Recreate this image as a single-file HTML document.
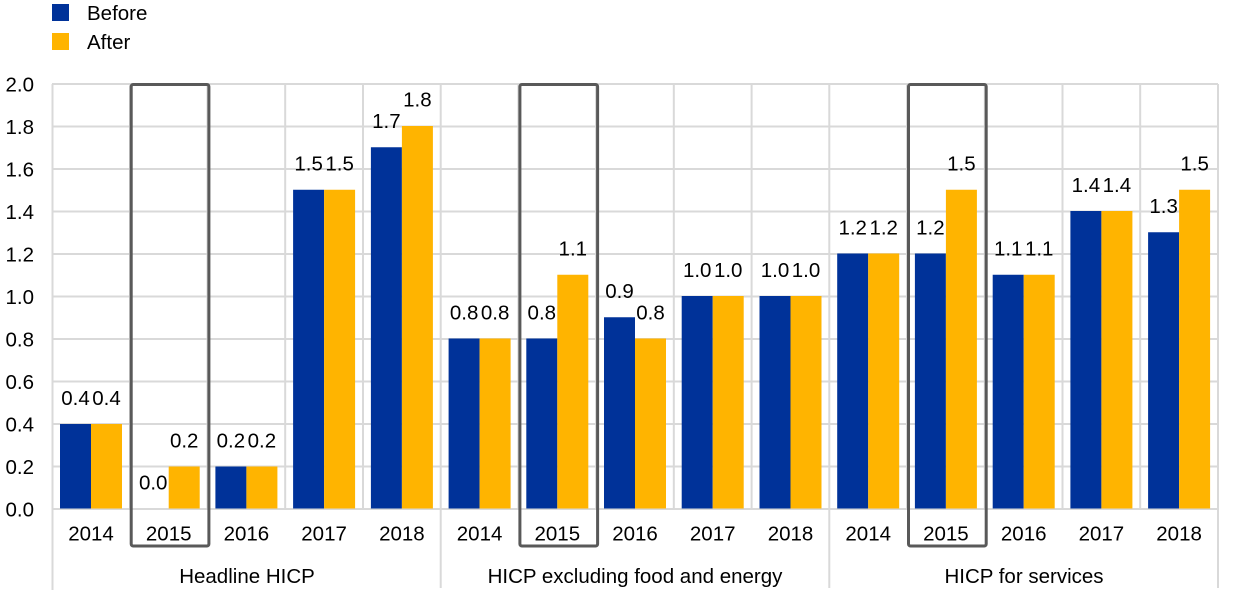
<!DOCTYPE html>
<html><head><meta charset="utf-8"><style>
html,body{margin:0;padding:0;background:#fff;}
svg{display:block;font-family:"Liberation Sans",Arial,sans-serif;}
</style></head><body>
<svg width="1240" height="590" viewBox="0 0 1240 590" xmlns="http://www.w3.org/2000/svg">
<rect width="1240" height="590" fill="#fff"/>
<!-- legend -->
<rect x="52" y="4" width="17" height="17" fill="#003299"/>
<text x="87" y="20" font-size="20.5" fill="#000">Before</text>
<rect x="52" y="33" width="17" height="17" fill="#FFB400"/>
<text x="87" y="49" font-size="20.5" fill="#000">After</text>
<!-- gridlines -->
<g stroke="#d9d9d9" stroke-width="2" fill="none">
<line x1="52" y1="84" x2="1218" y2="84"/>
<line x1="52" y1="126.5" x2="1218" y2="126.5"/>
<line x1="52" y1="169" x2="1218" y2="169"/>
<line x1="52" y1="211.5" x2="1218" y2="211.5"/>
<line x1="52" y1="254" x2="1218" y2="254"/>
<line x1="52" y1="296.5" x2="1218" y2="296.5"/>
<line x1="52" y1="339" x2="1218" y2="339"/>
<line x1="52" y1="381.5" x2="1218" y2="381.5"/>
<line x1="52" y1="424" x2="1218" y2="424"/>
<line x1="52" y1="466.5" x2="1218" y2="466.5"/>
<line x1="52" y1="509" x2="1218" y2="509"/>
<line x1="52.5" y1="84" x2="52.5" y2="590"/>
<line x1="130" y1="84" x2="130" y2="509"/>
<line x1="207.5" y1="84" x2="207.5" y2="509"/>
<line x1="285.2" y1="84" x2="285.2" y2="509"/>
<line x1="363" y1="84" x2="363" y2="509"/>
<line x1="440.7" y1="84" x2="440.7" y2="588"/>
<line x1="518.4" y1="84" x2="518.4" y2="509"/>
<line x1="596.1" y1="84" x2="596.1" y2="509"/>
<line x1="673.8" y1="84" x2="673.8" y2="509"/>
<line x1="751.6" y1="84" x2="751.6" y2="509"/>
<line x1="829.3" y1="84" x2="829.3" y2="588"/>
<line x1="907" y1="84" x2="907" y2="509"/>
<line x1="984.8" y1="84" x2="984.8" y2="509"/>
<line x1="1062.5" y1="84" x2="1062.5" y2="509"/>
<line x1="1140.2" y1="84" x2="1140.2" y2="509"/>
<line x1="1218" y1="84" x2="1218" y2="588"/>
</g>
<!-- y labels -->
<g font-size="20.5" fill="#000" text-anchor="end">
<text x="34" y="91.5">2.0</text>
<text x="34" y="134">1.8</text>
<text x="34" y="176.5">1.6</text>
<text x="34" y="219">1.4</text>
<text x="34" y="261.5">1.2</text>
<text x="34" y="304">1.0</text>
<text x="34" y="346.5">0.8</text>
<text x="34" y="389">0.6</text>
<text x="34" y="431.5">0.4</text>
<text x="34" y="474">0.2</text>
<text x="34" y="516.5">0.0</text>
</g>
<!-- bars -->
<g>
<rect x="60" y="424" width="31" height="84.5" fill="#003299"/>
<rect x="91" y="424" width="31" height="84.5" fill="#FFB400"/>
<rect x="168.7" y="466.5" width="31" height="42" fill="#FFB400"/>
<rect x="215.4" y="466.5" width="31" height="42" fill="#003299"/>
<rect x="246.4" y="466.5" width="31" height="42" fill="#FFB400"/>
<rect x="293.1" y="189.75" width="31" height="318.75" fill="#003299"/>
<rect x="324.1" y="189.75" width="31" height="318.75" fill="#FFB400"/>
<rect x="370.9" y="147.25" width="31" height="361.25" fill="#003299"/>
<rect x="401.9" y="126" width="31" height="382.5" fill="#FFB400"/>
<rect x="448.6" y="338.5" width="31" height="170" fill="#003299"/>
<rect x="479.6" y="338.5" width="31" height="170" fill="#FFB400"/>
<rect x="526.3" y="338.5" width="31" height="170" fill="#003299"/>
<rect x="557.3" y="274.75" width="31" height="233.75" fill="#FFB400"/>
<rect x="604.0" y="317.25" width="31" height="191.25" fill="#003299"/>
<rect x="635.0" y="338.5" width="31" height="170" fill="#FFB400"/>
<rect x="681.7" y="296" width="31" height="212.5" fill="#003299"/>
<rect x="712.7" y="296" width="31" height="212.5" fill="#FFB400"/>
<rect x="759.5" y="296" width="31" height="212.5" fill="#003299"/>
<rect x="790.5" y="296" width="31" height="212.5" fill="#FFB400"/>
<rect x="837.2" y="253.5" width="31" height="255" fill="#003299"/>
<rect x="868.2" y="253.5" width="31" height="255" fill="#FFB400"/>
<rect x="914.9" y="253.5" width="31" height="255" fill="#003299"/>
<rect x="945.9" y="189.75" width="31" height="318.75" fill="#FFB400"/>
<rect x="992.7" y="274.75" width="31" height="233.75" fill="#003299"/>
<rect x="1023.7" y="274.75" width="31" height="233.75" fill="#FFB400"/>
<rect x="1070.4" y="211" width="31" height="297.5" fill="#003299"/>
<rect x="1101.4" y="211" width="31" height="297.5" fill="#FFB400"/>
<rect x="1148.1" y="232.25" width="31" height="276.25" fill="#003299"/>
<rect x="1179.1" y="189.75" width="31" height="318.75" fill="#FFB400"/>
</g>
<!-- value labels -->
<g font-size="20.5" fill="#000" text-anchor="middle">
<text x="75.5" y="405">0.4</text>
<text x="106.5" y="405">0.4</text>
<text x="153.2" y="489.5">0.0</text>
<text x="184.2" y="447.5">0.2</text>
<text x="230.9" y="447.5">0.2</text>
<text x="261.9" y="447.5">0.2</text>
<text x="308.6" y="170.5">1.5</text>
<text x="339.6" y="170.5">1.5</text>
<text x="386.4" y="128">1.7</text>
<text x="417.4" y="106.5">1.8</text>
<text x="464.1" y="319.5">0.8</text>
<text x="495.1" y="319.5">0.8</text>
<text x="541.8" y="319.5">0.8</text>
<text x="572.8" y="255.5">1.1</text>
<text x="619.5" y="298">0.9</text>
<text x="650.5" y="319.5">0.8</text>
<text x="697.2" y="277">1.0</text>
<text x="728.2" y="277">1.0</text>
<text x="775.0" y="277">1.0</text>
<text x="806.0" y="277">1.0</text>
<text x="852.7" y="234.5">1.2</text>
<text x="883.7" y="234.5">1.2</text>
<text x="930.4" y="234.5">1.2</text>
<text x="961.4" y="170.5">1.5</text>
<text x="1008.2" y="255.5">1.1</text>
<text x="1039.2" y="255.5">1.1</text>
<text x="1085.9" y="192">1.4</text>
<text x="1116.9" y="192">1.4</text>
<text x="1163.6" y="213">1.3</text>
<text x="1194.6" y="170.5">1.5</text>
</g>
<!-- x labels -->
<g font-size="20.5" fill="#000" text-anchor="middle">
<text x="91" y="540.5">2014</text>
<text x="168.7" y="540.5">2015</text>
<text x="246.4" y="540.5">2016</text>
<text x="324.1" y="540.5">2017</text>
<text x="401.9" y="540.5">2018</text>
<text x="479.6" y="540.5">2014</text>
<text x="557.3" y="540.5">2015</text>
<text x="635.0" y="540.5">2016</text>
<text x="712.7" y="540.5">2017</text>
<text x="790.5" y="540.5">2018</text>
<text x="868.2" y="540.5">2014</text>
<text x="945.9" y="540.5">2015</text>
<text x="1023.7" y="540.5">2016</text>
<text x="1101.4" y="540.5">2017</text>
<text x="1179.1" y="540.5">2018</text>
<text x="247" y="583">Headline HICP</text>
<text x="635" y="583">HICP excluding food and energy</text>
<text x="1024" y="583">HICP for services</text>
</g>
<!-- highlight boxes -->
<g fill="none" stroke="#595959" stroke-width="3">
<rect x="131.2" y="84.5" width="77.7" height="461.5" rx="2"/>
<rect x="519.9" y="84.5" width="77.7" height="461.5" rx="2"/>
<rect x="908.5" y="84.5" width="77.7" height="461.5" rx="2"/>
</g>
</svg>
</body></html>
